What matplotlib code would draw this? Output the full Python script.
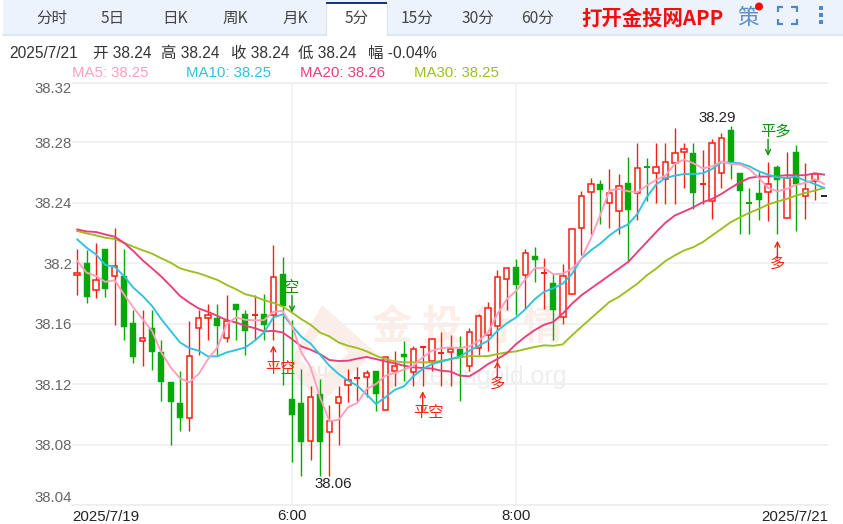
import matplotlib
matplotlib.use("Agg")
import matplotlib.pyplot as plt
from matplotlib.patches import Rectangle, Polygon, Circle

plt.rcParams['font.family'] = ['Liberation Sans', 'Noto Sans CJK SC', 'DejaVu Sans']
CJK = ['Noto Sans CJK SC', 'Liberation Sans']
MIXED = ['Liberation Sans', 'Noto Sans CJK SC']

# 5 minute candles
opens = [38.1923, 38.2, 38.1824, 38.2092, 38.1914, 38.1916, 38.1604, 38.1485, 38.1571, 38.1413,
         38.1215, 38.1078, 38.0975, 38.1569, 38.1637, 38.1637, 38.1505, 38.1729, 38.1663, 38.1655,
         38.1663, 38.1659, 38.1927, 38.11, 38.1076, 38.0825, 38.1135, 38.0882, 38.1074, 38.1197,
         38.1235, 38.1248, 38.1289, 38.103, 38.1287, 38.1399, 38.1278, 38.1444, 38.1353, 38.1402,
         38.1413, 38.1432, 38.132, 38.1437, 38.1525, 38.1584, 38.1899, 38.1976, 38.1923, 38.2051,
         38.1934, 38.187, 38.1645, 38.1795, 38.2235, 38.2473, 38.2525, 38.24, 38.2347, 38.2532,
         38.2466, 38.2635, 38.2598, 38.2556, 38.2666, 38.2737, 38.2732, 38.2519, 38.2415, 38.2598,
         38.2882, 38.26, 38.24, 38.2468, 38.2473, 38.264, 38.2299, 38.2739, 38.2446, 38.2547, 38.2444]
closes = [38.1938, 38.1778, 38.1892, 38.1833, 38.1982, 38.1575, 38.1377, 38.1505, 38.141, 38.1212,
          38.108, 38.0973, 38.1386, 38.1637, 38.1659, 38.1582, 38.1617, 38.169, 38.1549, 38.1659,
          38.1589, 38.1908, 38.1718, 38.0997, 38.0816, 38.1113, 38.0816, 38.0955, 38.1113, 38.123,
          38.1239, 38.1274, 38.1138, 38.1377, 38.132, 38.1377, 38.143, 38.1448, 38.1496, 38.1406,
          38.1432, 38.1384, 38.1545, 38.1652, 38.1701, 38.191, 38.1967, 38.1857, 38.2066, 38.202,
          38.1938, 38.1692, 38.1914, 38.2228, 38.2448, 38.2525, 38.2488, 38.2466, 38.2514, 38.2354,
          38.2631, 38.2631, 38.2638, 38.2671, 38.273, 38.2754, 38.2464, 38.2523, 38.2796, 38.2829,
          38.2664, 38.2477, 38.2396, 38.242, 38.2523, 38.2554, 38.2565, 38.2525, 38.249, 38.2591, 38.2446]
highs = [38.2097, 38.2086, 38.2132, 38.2092, 38.2235, 38.2092, 38.1692, 38.1692, 38.1692, 38.1492,
         38.1215, 38.1289, 38.1619, 38.1692, 38.1729, 38.1729, 38.1791, 38.1729, 38.1692, 38.1791,
         38.1795, 38.2121, 38.2042, 38.1626, 38.13, 38.1188, 38.1234, 38.1065, 38.1188, 38.13,
         38.1311, 38.1294, 38.1289, 38.1377, 38.1421, 38.1487, 38.1454, 38.1448, 38.1496, 38.1542,
         38.1527, 38.152, 38.1571, 38.1663, 38.1747, 38.1954, 38.1967, 38.2026, 38.2092, 38.2108,
         38.2037, 38.1938, 38.1997, 38.2228, 38.2477, 38.2565, 38.2552, 38.2624, 38.2591, 38.2706,
         38.2796, 38.2695, 38.2796, 38.2796, 38.2893, 38.2796, 38.2796, 38.275, 38.2822, 38.2864,
         38.291, 38.26, 38.2499, 38.2602, 38.2673, 38.2651, 38.2739, 38.2785, 38.2666, 38.2591, 38.2446]
lows = [38.1791, 38.174, 38.1773, 38.1778, 38.1593, 38.1492, 38.1338, 38.1318, 38.1294, 38.1091,
        38.0794, 38.0893, 38.0893, 38.1393, 38.1492, 38.1393, 38.1476, 38.1492, 38.1393, 38.1492,
        38.1492, 38.1492, 38.1195, 38.0684, 38.0592, 38.0695, 38.0592, 38.0592, 38.0794, 38.1085,
        38.1091, 38.1113, 38.1025, 38.103, 38.119, 38.1223, 38.119, 38.119, 38.1289, 38.119,
        38.119, 38.1091, 38.1289, 38.1395, 38.1421, 38.1344, 38.169, 38.1659, 38.1696, 38.1879,
        38.1696, 38.1492, 38.1597, 38.1795, 38.2052, 38.2195, 38.2261, 38.2233, 38.2195, 38.2008,
        38.2288, 38.2415, 38.2398, 38.2393, 38.2393, 38.2497, 38.236, 38.2393, 38.2294, 38.2497,
        38.2558, 38.2195, 38.2195, 38.2288, 38.2283, 38.2195, 38.2299, 38.2217, 38.2294, 38.242, 38.2444]

ma5 = [38.2015, 38.1938, 38.1916, 38.1877, 38.1888, 38.1795, 38.1707, 38.163, 38.1553, 38.141,
       38.1311, 38.1239, 38.1212, 38.1267, 38.1366, 38.1443, 38.1597, 38.1641, 38.1626, 38.1622,
       38.1624, 38.1679, 38.1685, 38.1586, 38.141, 38.1311, 38.1113, 38.0955, 38.0964, 38.1047,
       38.1076, 38.1168, 38.1201, 38.1256, 38.1274, 38.1296, 38.1322, 38.1377, 38.1421, 38.1439,
       38.1443, 38.1439, 38.145, 38.1487, 38.1542, 38.1663, 38.1762, 38.1817, 38.1894, 38.1967,
       38.1971, 38.1927, 38.1931, 38.1964, 38.203, 38.2162, 38.2316, 38.2481, 38.2492, 38.2477,
       38.247, 38.2514, 38.2552, 38.258, 38.2657, 38.2686, 38.2662, 38.2629, 38.2642, 38.2673,
       38.2657, 38.2653, 38.2624, 38.2565, 38.2499, 38.2477, 38.2492, 38.2519, 38.2532, 38.2558, 38.2525]
ma10 = [38.2158, 38.2103, 38.2059, 38.1989, 38.1976, 38.1916, 38.1839, 38.1784, 38.1718, 38.163,
        38.1553, 38.1476, 38.1439, 38.1421, 38.1384, 38.1384, 38.141, 38.1426, 38.1443, 38.1487,
        38.1542, 38.1641, 38.1663, 38.1586, 38.1514, 38.1468, 38.1395, 38.1322, 38.1267, 38.1223,
        38.119, 38.1131, 38.1069, 38.1113, 38.1162, 38.1186, 38.1252, 38.13, 38.1333, 38.1349,
        38.1366, 38.1384, 38.1421, 38.1454, 38.1487, 38.1553, 38.1602, 38.1641, 38.1696, 38.1762,
        38.1811, 38.1835, 38.1865, 38.1931, 38.203, 38.2085, 38.2129, 38.2184, 38.2228, 38.2257,
        38.2327, 38.2437, 38.2521, 38.2565, 38.258, 38.2591, 38.2591, 38.2596, 38.2624, 38.2668,
        38.2666, 38.2662, 38.2642, 38.2609, 38.2587, 38.2569, 38.2565, 38.2574, 38.2547, 38.2525, 38.2499]
ma20 = [38.2224, 38.2211, 38.2207, 38.2191, 38.2176, 38.2136, 38.2081, 38.202, 38.1967, 38.1912,
        38.185, 38.1784, 38.174, 38.1701, 38.1679, 38.1652, 38.1624, 38.1608, 38.1586, 38.1571,
        38.1549, 38.1553, 38.1542, 38.1498, 38.145, 38.1428, 38.1399, 38.136, 38.1353, 38.1355,
        38.1369, 38.138, 38.1366, 38.1351, 38.1338, 38.1322, 38.1311, 38.1307, 38.1303, 38.1289,
        38.1283, 38.1256, 38.1252, 38.1289, 38.1333, 38.1366, 38.1404, 38.1465, 38.1514, 38.1558,
        38.1593, 38.1612, 38.1667, 38.1733, 38.1788, 38.1832, 38.1876, 38.192, 38.1964, 38.2008,
        38.2074, 38.214, 38.2206, 38.2268, 38.2316, 38.2343, 38.2371, 38.2404, 38.2426, 38.2459,
        38.2499, 38.2536, 38.2565, 38.2574, 38.2574, 38.2578, 38.2583, 38.2583, 38.2583, 38.2596, 38.2587]
ma30 = [38.2213, 38.2198, 38.2185, 38.2169, 38.2161, 38.2136, 38.211, 38.2086, 38.2064, 38.2033,
        38.2004, 38.1967, 38.1949, 38.1934, 38.1912, 38.189, 38.1857, 38.1828, 38.1795, 38.178,
        38.1756, 38.1738, 38.1714, 38.1674, 38.163, 38.1593, 38.1542, 38.1516, 38.1476, 38.1454,
        38.1439, 38.1417, 38.1388, 38.1366, 38.1351, 38.1344, 38.1344, 38.1344, 38.1344, 38.1355,
        38.1366, 38.1377, 38.1386, 38.1384, 38.1386, 38.1399, 38.141, 38.1417, 38.1432, 38.1446,
        38.1457, 38.1454, 38.1463, 38.1524, 38.1579, 38.1634, 38.1689, 38.1744, 38.1777, 38.1821,
        38.1865, 38.192, 38.1964, 38.2015, 38.2052, 38.2085, 38.2107, 38.214, 38.2184, 38.2228,
        38.2272, 38.2305, 38.2334, 38.236, 38.2389, 38.2409, 38.2426, 38.2448, 38.2466, 38.2481, 38.2499]

y_ticks = [38.32, 38.28, 38.24, 38.20, 38.16, 38.12, 38.08, 38.04]
y_labels = ["38.32", "38.28", "38.24", "38.2", "38.16", "38.12", "38.08", "38.04"]
x_ticks = [23, 47]
x_labels = ["6:00", "8:00"]
tab_names = ["分时", "5日", "日K", "周K", "月K", "5分", "15分", "30分", "60分"]
info_parts = ["2025/7/21", "开 38.24", "高 38.24", "收 38.24", "低 38.24", "幅 -0.04%"]
ma_legend = ["MA5: 38.25", "MA10: 38.25", "MA20: 38.26", "MA30: 38.25"]

# trade signals: candle, text, colour, arrow tip, arrow tail, text price, text shift in candles
signals = [(21, "平空", "#f5261c", 38.1457, 38.1320, 38.1306, 0.75),
           (23, "空", "#0e8f0e", 38.1675, 38.1787, 38.1840, 0.0),
           (37, "平空", "#f5261c", 38.1154, 38.1020, 38.1009, 0.64),
           (45, "多", "#f5261c", 38.1352, 38.1240, 38.1207, 0.0),
           (74, "平多", "#0e8f0e", 38.2710, 38.2822, 38.2875, 0.75),
           (75, "多", "#f5261c", 38.2150, 38.2030, 38.2004, 0.0)]

RED = "#fa1e10"
GREEN = "#08a808"
MA_COLORS = ["#ff9fbf", "#2cc3de", "#ea3d7c", "#9cbf1f"]

W, H = 843, 524
fig = plt.figure(figsize=(W / 100, H / 100), dpi=100, facecolor="white")

# page furniture sits on an axes that counts in pixels
page = fig.add_axes([0, 0, 1, 1], zorder=0)
page.set_xlim(0, W)
page.set_ylim(H, 0)
page.axis("off")

page.add_patch(Rectangle((3, 0), W - 3, 35, fc="#ecf3fd", ec="none"))
page.plot([3, W], [35, 35], color="#dbe3ef", lw=1.2)
page.add_patch(Rectangle((326, 3), 61, 33, fc="white", ec="none", zorder=3))
page.plot([326, 326], [3, 35], color="#dbe3ef", lw=0.8, zorder=3)
page.plot([387, 387], [3, 35], color="#dbe3ef", lw=0.8, zorder=3)
page.add_patch(Rectangle((326, 1.5), 61, 2.5, fc="#15397f", ec="none", zorder=4))

tab_x = [52, 113, 175, 235, 295, 357, 417, 478, 538]
for name, x in zip(tab_names, tab_x):
    page.text(x, 18.5, name, ha="center", va="center", fontsize=11.2, color="#444444", family=CJK, zorder=5)
page.text(652, 18, "打开金投网APP", ha="center", va="center", fontsize=14.7, color="#f40d0d",
          family=CJK, fontweight="bold")
page.text(748, 18, "策", ha="center", va="center", fontsize=15.5, color="#5b8fcb", family=CJK)
page.add_patch(Circle((759, 6.5), 4, fc="#f50a0a", ec="none", zorder=5))
for x0, x1, y0, y1 in [(777, 783, 7, 7), (791, 796.5, 7, 7), (777, 783, 24, 24), (791, 796.5, 24, 24),
                       (777.5, 777.5, 6, 12), (796.5, 796.5, 6, 12), (777.5, 777.5, 19, 25), (796.5, 796.5, 19, 25)]:
    page.plot([x0, x1], [y0, y1], color="#4f88c9", lw=1.6, solid_capstyle="butt")
for y in [7.5, 14.5, 22]:
    page.add_patch(Rectangle((819, y - 2), 4, 4, fc="#4f88c9", ec="none"))

info_x = [9, 93, 161, 231, 298, 368]
for part, x in zip(info_parts, info_x):
    page.text(x, 53.5, part, ha="left", va="center", fontsize=11.2, color="#333333", family=MIXED)
legend_x = [72, 186, 300, 414]
for label, x, c in zip(ma_legend, legend_x, MA_COLORS):
    page.text(x, 73, label, ha="left", va="center", fontsize=10.8, color=c)

# watermark behind the chart
page.add_patch(Polygon([(322, 305), (375, 352), (322, 402), (286, 368)], closed=True, fc="#fbeee9", ec="none"))
page.add_patch(Polygon([(322, 330), (349, 352), (322, 378), (300, 360)], closed=True, fc="white", ec="none"))
page.text(318, 372, "AU", ha="center", va="center", fontsize=11, color="#f6e4de", fontweight="bold")
for ch, x in zip("金投行情", [391, 442, 492, 542]):
    page.text(x, 327, ch, ha="center", va="center", fontsize=29, color="#fbeee9", family=CJK, fontweight="bold")
page.text(567, 377, "quote.cngold.org", ha="right", va="center", fontsize=18, color="#eeeeee")

# the chart itself
ax = fig.add_axes([72 / W, 1 - 505 / H, (828 - 72) / W, (505 - 82) / H], zorder=1)
ax.patch.set_visible(False)
ax.set_xlim(-0.567, 80.42)
ax.set_ylim(38.0403, 38.3191)
for side in ["top", "right", "left"]:
    ax.spines[side].set_visible(False)
ax.spines["bottom"].set_color("#eeeeee")
ax.spines["bottom"].set_linewidth(1.2)
ax.axhline(38.3191, color="#eeeeee", lw=1.2, zorder=0)

ax.set_yticks(y_ticks)
ax.set_yticklabels(y_labels, fontsize=10.8, color="#666666")
ax.get_yticklabels()[0].set_va("top")
ax.get_yticklabels()[-1].set_va("bottom")
ax.tick_params(axis="both", length=0)
ax.tick_params(axis="y", pad=0)
ax.set_xticks(x_ticks)
ax.set_xticklabels(x_labels, fontsize=10.8, color="#222222")
ax.tick_params(axis="x", pad=3)
ax.grid(True, color="#f0f0f0", lw=1.3, zorder=0)
ax.set_axisbelow(True)
ax.text(0, -0.013, "2025/7/19", transform=ax.transAxes, ha="left", va="top", fontsize=10.8, color="#222222")
ax.text(1, -0.013, "2025/7/21", transform=ax.transAxes, ha="right", va="top", fontsize=10.8, color="#222222")

for i in range(len(opens)):
    up = closes[i] >= opens[i]
    c = RED if up else GREEN
    low_body, top_body = min(opens[i], closes[i]), max(opens[i], closes[i])
    ax.vlines(i, lows[i], highs[i], color=c, lw=1.0, zorder=2)
    if top_body - low_body < 0.0006:
        ax.hlines(top_body, i - 0.32, i + 0.32, color="#222222" if i == len(opens) - 1 else c, lw=1.4, zorder=3)
    elif up:
        ax.add_patch(Rectangle((i - 0.3, low_body), 0.6, top_body - low_body, fc="white", ec=c, lw=1.1, zorder=3))
    else:
        ax.add_patch(Rectangle((i - 0.33, low_body), 0.66, top_body - low_body, fc=c, ec=c, lw=0.3, zorder=3))

xs = list(range(len(ma5)))
for values, c in zip([ma30, ma20, ma10, ma5], MA_COLORS[::-1]):
    ax.plot(xs, values, color=c, lw=1.35, zorder=4, solid_joinstyle="round")

for idx, txt, c, tip, tail, text_y, shift in signals:
    ax.annotate("", xy=(idx, tip), xytext=(idx, tail),
                arrowprops=dict(arrowstyle="->", color=c, lw=1.0, shrinkA=0, shrinkB=0, mutation_scale=9), zorder=6)
    ax.text(idx + shift, text_y, txt, ha="center", va="center", fontsize=11, color=c, family=CJK, zorder=6)

ax.text(68.53, 38.296, "38.29", ha="center", va="center", fontsize=10.8, color="#222222", zorder=6)
ax.text(27.39, 38.0541, "38.06", ha="center", va="center", fontsize=10.8, color="#222222", zorder=6)

fig.savefig("out.png", dpi=100)
